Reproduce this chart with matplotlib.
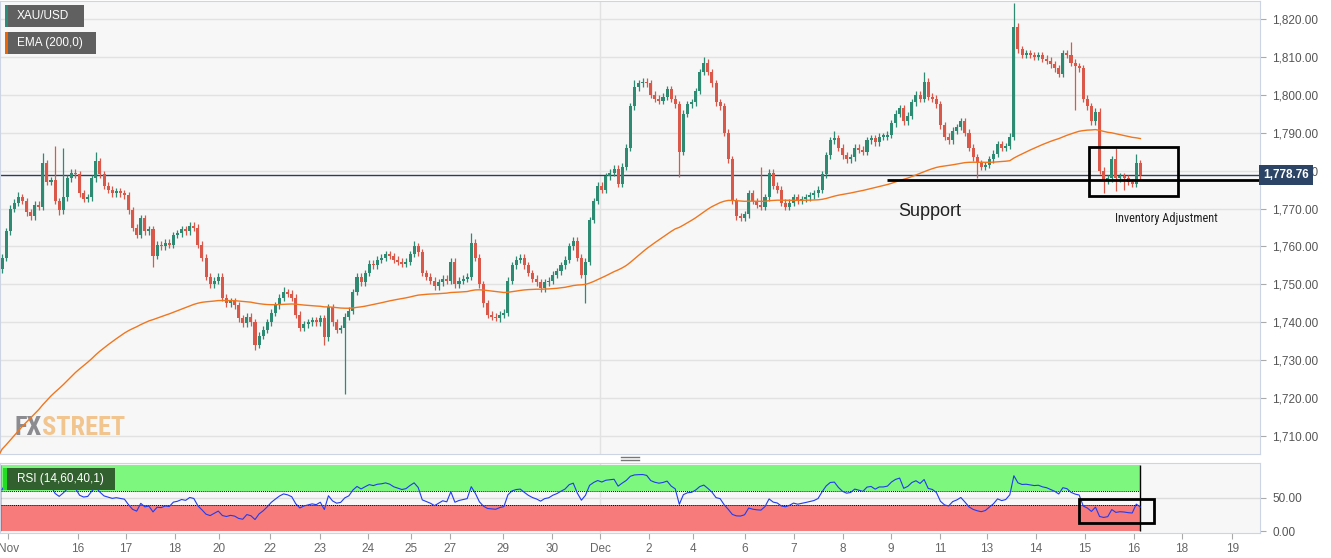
import numpy as np
import matplotlib
matplotlib.use("Agg")
import matplotlib.pyplot as plt
from matplotlib import font_manager
from matplotlib.patches import Rectangle
from matplotlib.lines import Line2D
from matplotlib.ticker import FuncFormatter

plt.rcParams['font.family'] = ['Liberation Sans', 'DejaVu Sans']

# XAU/USD, 2-hour closes from 15 Nov to 16 Dec
first_open = 1754.0
closes = [
    1757, 1764, 1770, 1771.5, 1773, 1772, 1769, 1768, 1771, 1770.5,
    1782, 1777, 1777.5, 1772, 1769.5, 1773, 1778, 1779.5, 1779, 1774,
    1772.5, 1773, 1778, 1782.5, 1779, 1776, 1775, 1774, 1774.5, 1774,
    1773.5, 1769.5, 1765, 1763, 1767.5, 1764, 1764.5, 1757.5, 1760.5, 1760,
    1761, 1760.5, 1763, 1763.5, 1764.5, 1764, 1765.5, 1765, 1760.5, 1757,
    1752, 1750, 1751, 1752, 1746.5, 1745, 1745.5, 1744.5, 1741, 1739.7,
    1741.5, 1740, 1734, 1736.5, 1738, 1740, 1742.5, 1744.5, 1746.5, 1748,
    1747.5, 1746.5, 1742, 1738.5, 1739.5, 1740, 1740.5, 1740, 1741, 1736,
    1744, 1740, 1738, 1738.5, 1741.5, 1743, 1748, 1752, 1750.5, 1753,
    1755.5, 1755, 1756.5, 1757, 1758, 1757.5, 1756.5, 1756, 1755.5, 1756,
    1758, 1760, 1758.5, 1753, 1752, 1751, 1749.5, 1750.5, 1751.5, 1751,
    1756, 1750, 1751, 1751.5, 1752, 1761, 1757, 1750, 1745, 1742,
    1741.5, 1741, 1742, 1742.5, 1751, 1755, 1756.5, 1757, 1755, 1753,
    1751.5, 1750.5, 1749, 1750.5, 1751, 1752.5, 1753.5, 1755, 1756.5, 1760,
    1761.5, 1757, 1752.5, 1756, 1767, 1772, 1776, 1775, 1778.5, 1779.5,
    1780.5, 1776.5, 1781, 1786, 1797, 1802, 1803, 1803.5, 1803, 1800,
    1799, 1798.5, 1799.5, 1801.5, 1799, 1797.5, 1785, 1795, 1797.5, 1798,
    1801, 1806, 1808.5, 1806, 1803, 1798, 1797, 1790, 1783, 1772,
    1768, 1767.5, 1768.5, 1774, 1772, 1771, 1770.5, 1773, 1779.5, 1776,
    1775, 1771.5, 1770.5, 1771.5, 1773, 1772, 1772.5, 1773, 1773.5, 1774,
    1775, 1779, 1784, 1788, 1788.5, 1786, 1784, 1783, 1783.5, 1786,
    1785.5, 1785, 1788, 1788.5, 1787.5, 1789, 1789, 1789.5, 1792.5, 1795,
    1796.5, 1793, 1794.5, 1798, 1800, 1799, 1803.5, 1799.5, 1799, 1797.5,
    1792, 1789, 1788, 1790.5, 1791.5, 1793, 1790, 1786, 1783.5, 1782,
    1781, 1781.5, 1783, 1784.5, 1787, 1786, 1786.5, 1789, 1818, 1812,
    1810.5, 1811, 1810.5, 1810, 1810.5, 1809.5, 1809, 1808, 1807, 1805.5,
    1811, 1810.5, 1808.5, 1807.5, 1807, 1799, 1797, 1793, 1795.5, 1780,
    1777.5, 1778, 1783, 1778, 1778.5, 1778, 1777, 1776.5, 1782, 1778.76,
]
# wicks that stick out well past the body (bar index -> price)
spike_highs = {4: 1774.4, 10: 1784.6, 13: 1786.5, 15: 1786.0, 23: 1785.0,
               69: 1749.4, 101: 1761.5, 115: 1763.5, 155: 1804.0, 172: 1810.0,
               186: 1781.0, 204: 1790.5, 226: 1806.0, 248: 1824.1, 262: 1814.0,
               273: 1786.0, 278: 1784.3}
spike_lows = {14: 1768.3, 37: 1754.7, 62: 1732.7, 79: 1734.0, 84: 1721.2,
              121: 1740.3, 143: 1745.0, 166: 1778.4, 239: 1778.0, 263: 1796.0,
              270: 1774.0, 273: 1774.5, 275: 1775.0}

ema_seed = 1705.5
last_price = 1778.76
support = 1777.6
box_low, box_high = 1773.3, 1786.2

day_pos = [2.0, 19.0, 30.9, 42.9, 53.7, 66.2, 78.4, 90.2, 100.7, 110.3, 123.3,
           135.3, 147.1, 159.1, 169.9, 182.6, 194.6, 206.6, 218.4, 230.4,
           241.9, 253.9, 265.9, 277.9, 289.7, 302.0]
day_labels = ['Nov', '16', '17', '18', '20', '22', '23', '24', '25', '27', '29',
              '30', 'Dec', '2', '4', '6', '7', '8', '9', '11', '13', '14', '15',
              '16', '18', '19']

GREEN = '#2f8a73'
RED = '#d9584a'
W, H = 1331, 558
PX = 4.08  # pixels per bar


def installed(name):
    try:
        font_manager.findfont(font_manager.FontProperties(family=name),
                              fallback_to_default=False)
        return True
    except ValueError:
        return False


narrow = None
for cand in ['Liberation Sans Narrow', 'DejaVu Sans Condensed', 'Roboto Condensed']:
    if installed(cand):
        narrow = cand
        break

n = len(closes)
x = np.arange(n) + 0.5
c = np.array(closes, dtype=float)
o = np.r_[first_open, c[:-1]]
hi = np.maximum(o, c) + 0.9
lo = np.minimum(o, c) - 0.9
for i, v in spike_highs.items():
    hi[i] = v
for i, v in spike_lows.items():
    lo[i] = v

# EMA(200) on hourly bars ~ span 100 on 2h bars
alpha = 2 / 101
ema = np.empty(n)
prev = ema_seed
for i in range(n):
    prev = prev + alpha * (c[i] - prev)
    ema[i] = prev

# RSI, Wilder smoothing
per = 10
diff = np.diff(np.r_[first_open, c])
ag, al = 1.0, 0.8
rsi = []
for d in diff:
    ag = (ag * (per - 1) + max(d, 0)) / per
    al = (al * (per - 1) + max(-d, 0)) / per
    rsi.append(100 - 100 / (1 + ag / al))


def box(l, t, r, b):
    return [l / W, 1 - b / H, (r - l) / W, (b - t) / H]


fig = plt.figure(figsize=(W / 100, H / 100), dpi=100)
ax = fig.add_axes(box(0, 1, 1260, 454))
ar = fig.add_axes(box(0, 463, 1260, 533), sharex=ax)

# ---- price panel
ax.set_facecolor('#f7f7f7')
ax.set_xlim(0, 1260 / PX)
ax.set_ylim(1705.25, 1824.75)
ax.yaxis.tick_right()
ax.set_yticks(np.arange(1710, 1821, 10))
ax.yaxis.set_major_formatter(FuncFormatter(lambda v, p: f'{v:,.2f}'))
ax.tick_params(axis='y', length=4, color='#aaaaaa', labelsize=8.5,
               labelcolor='#555555', pad=5)
ax.tick_params(axis='x', bottom=False, labelbottom=False)
ax.grid(axis='y', color='#e2e2e2', lw=1)
ax.set_axisbelow(True)
ax.axvline(day_pos[12], color='#e2e2e2', lw=1, zorder=0.5)
for s in ax.spines.values():
    s.set_color('#cdd5e5')

cols = np.where(c >= o, GREEN, RED)
ax.vlines(x, lo, hi, colors=cols, lw=0.9, zorder=3)
ax.bar(x, np.maximum(np.abs(c - o), 0.3), bottom=np.minimum(o, c), width=0.75,
       color=cols, lw=0, zorder=3)
ax.plot(np.r_[0, x], np.r_[ema_seed, ema], color='#f0761e', lw=1, zorder=4)

ax.axhline(last_price, color='#2c3e5c', lw=1, zorder=2)
ax.text(1.0025, last_price, '1,778.76', transform=ax.get_yaxis_transform(),
        ha='left', va='center', color='white', fontsize=8.5, fontweight='bold',
        clip_on=False, zorder=10,
        bbox=dict(boxstyle='square,pad=0.35', fc='#2c4466', ec='none'))

ax.hlines(support, 887 / PX, 1260 / PX, color='black', lw=2, zorder=5)
ax.text(898 / PX, 1769.1, 'Support', fontsize=13, color='#222222', va='center')
if narrow:
    ax.text(1115 / PX, 1767.3, 'Inventory Adjustment', fontsize=8.8,
            family=narrow, color='#222222', va='center')
else:
    ax.text(1115 / PX, 1767.3, 'Inventory Adjustment', fontsize=7.5,
            color='#222222', va='center')
ax.add_patch(Rectangle((1089 / PX, box_low), (1178 - 1089) / PX,
                       box_high - box_low, fill=False, ec='black', lw=2, zorder=6))

# watermark
wm_family = narrow if narrow else 'Liberation Sans'
wm_size = 19 if narrow else 15
fx = ax.text(15 / W, 1 - 435 / H, 'FX', transform=fig.transFigure,
             fontsize=wm_size, fontweight='bold', color='#8c8c90',
             va='baseline', zorder=1, family=wm_family)


# legend tags
def tag(t, b, r, stripe, label):
    fig.add_artist(Rectangle((5 / W, 1 - b / H), (r - 5) / W, (b - t) / H,
                             transform=fig.transFigure, fc='#606060', ec='none'))
    fig.add_artist(Rectangle((5 / W, 1 - b / H), 3 / W, (b - t) / H,
                             transform=fig.transFigure, fc=stripe, ec='none'))
    fig.text(17 / W, 1 - (t + b) / 2 / H, label, color='white', fontsize=8.5,
             va='center')


tag(5, 27, 84, '#2b8a78', 'XAU/USD')
tag(32, 54, 96, '#e8650a', 'EMA (200,0)')

# ---- RSI panel
ar.set_facecolor('#f7f7f7')
ar.set_ylim(-3, 103)
end = x[-1]
ar.axhline(50, color='#dcdcdc', lw=1, zorder=0.5)
ar.axvline(day_pos[12], color='#e2e2e2', lw=1, zorder=0.5)
ar.fill_between([0, end], 60, 100, color='#7ef77e', lw=0, zorder=1)
ar.fill_between([0, end], 0, 40, color='#f87b7b', lw=0, zorder=1)
ar.hlines([60, 40], 0, end, colors='black', lw=0.7, linestyles=(0, (1, 1)), zorder=2)
ar.vlines([0.1, end], 0, 100, colors='black', lw=1, zorder=2)
ar.plot(x, rsi, color='#1f3cf0', lw=0.8, zorder=3)
ar.add_patch(Rectangle((1079 / PX, 12), (1154 - 1079) / PX, 36.5, fill=False,
                       ec='black', lw=2, zorder=6))
ar.yaxis.tick_right()
ar.set_yticks([0, 50])
ar.yaxis.set_major_formatter(FuncFormatter(lambda v, p: f'{v:.2f}'))
ar.tick_params(axis='y', length=4, color='#aaaaaa', labelsize=8.5,
               labelcolor='#555555', pad=5)
ar.set_xticks(day_pos)
ar.set_xticklabels(day_labels)
ar.tick_params(axis='x', length=4, color='#aaaaaa', labelsize=8.5,
               labelcolor='#666666', pad=3)
for s in ar.spines.values():
    s.set_color('#cdd5e5')

fig.add_artist(Rectangle((3 / W, 1 - 490 / H), 112 / W, 22 / H,
                         transform=fig.transFigure, fc='#33602f', ec='none', zorder=5))
fig.add_artist(Rectangle((3 / W, 1 - 490 / H), 4 / W, 22 / H,
                         transform=fig.transFigure, fc='#22dd22', ec='none', zorder=6))
fig.text(17 / W, 1 - 479 / H, 'RSI (14,60,40,1)', color='white', fontsize=8.5,
         va='center', zorder=7)

# pane splitter handle
for yy in (457, 460):
    fig.add_artist(Line2D([621 / W, 639 / W], [1 - yy / H] * 2, color='#777777', lw=1))

fig.canvas.draw()
bb = fx.get_window_extent()
ax.text(bb.x1 / W, 1 - 435 / H, 'STREET', transform=fig.transFigure,
        fontsize=wm_size, fontweight='bold', color='#f2c48e', va='baseline',
        zorder=1, family=wm_family)

fig.savefig('out.png', dpi=100, facecolor='white')
